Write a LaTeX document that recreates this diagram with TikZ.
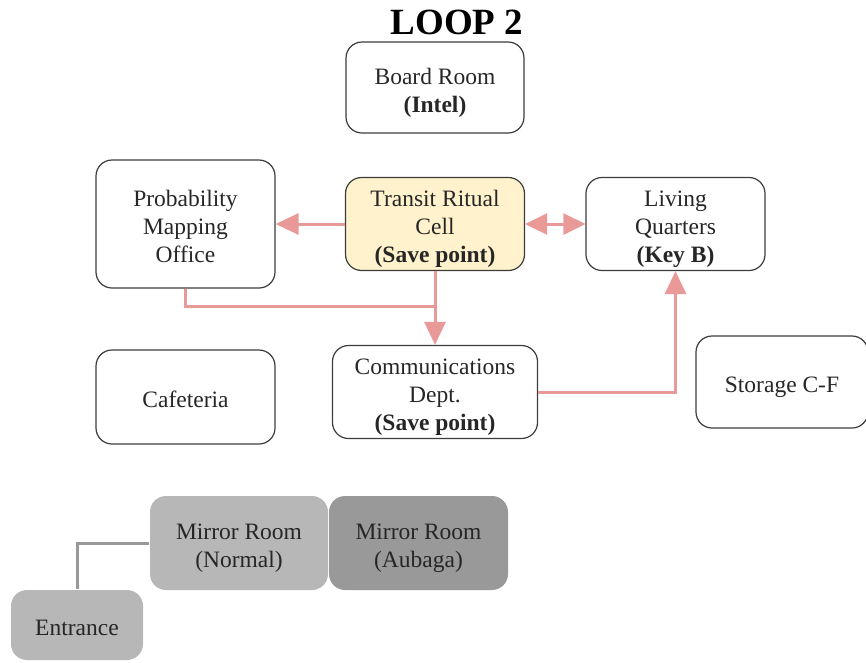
\documentclass[tikz,border=0pt]{standalone}
\usepackage{fontspec}
\setmainfont{Liberation Serif}
\usetikzlibrary{arrows.meta}
\definecolor{linkred}{HTML}{EA9999}
\definecolor{cellyellow}{HTML}{FFF2CC}
\definecolor{roomgray}{HTML}{B7B7B7}
\definecolor{roomdark}{HTML}{999999}
\definecolor{edgegray}{HTML}{3C3C3C}
% fixed-height struts so every label sits at the same place in its room
\newcommand\roomtop{\rule{0pt}{29pt}}
\newcommand\roombot{\rule[-8pt]{0pt}{0pt}}
\begin{document}
\begin{tikzpicture}[x=1pt,y=-1pt,
  room/.style={draw=edgegray, line width=1.2pt, rounded corners=16pt, align=center,
    font=\fontsize{23.5}{28}\selectfont, text=black!85, inner sep=0pt},
  greyroom/.style={room, draw=none, fill=roomgray},
  link/.style={linkred, line width=3pt},
  tip/.style={-{Triangle[length=23pt,width=21pt]}},
  twotip/.style={{Triangle[length=22pt,width=21pt]}-{Triangle[length=22pt,width=21pt]}},
  wire/.style={roomdark, line width=3pt}
]
\useasboundingbox (0,0) rectangle (866,662);

% title
\node[font=\fontsize{37}{42}\selectfont\bfseries] (title) at (457,22) {LOOP 2};

% upper floor rooms
\node[room, minimum width=178pt, minimum height=91pt] (board) at (435,87.5)
  {\roomtop Board Room\\\textbf{(Intel)}\roombot};
\node[room, minimum width=179pt, minimum height=128pt] (prob) at (185.5,224)
  {\roomtop Probability\\Mapping\\Office\roombot};
\node[room, fill=cellyellow, minimum width=179pt, minimum height=91pt] (transit) at (435,224)
  {\roomtop Transit Ritual\\Cell\\\textbf{(Save point)}\roombot};
\node[room, minimum width=179pt, minimum height=92pt] (living) at (675.5,224)
  {\roomtop Living\\Quarters\\\textbf{(Key B)}\roombot};

% middle rooms
\node[room, minimum width=179pt, minimum height=94pt] (cafe) at (185.5,397)
  {\roomtop Cafeteria\roombot};
\node[room, minimum width=205pt, minimum height=92pt] (comms) at (435,392)
  {\roomtop Communications\\Dept.\\\textbf{(Save point)}\roombot};
\node[room, minimum width=172pt, minimum height=92pt] (storage) at (782,382)
  {\roomtop Storage C-F\roombot};

% lower rooms
\node[greyroom, minimum width=178pt, minimum height=94pt] (mirrorA) at (239,543)
  {\roomtop Mirror Room\\(Normal)\roombot};
\node[greyroom, fill=roomdark, minimum width=179pt, minimum height=94pt] (mirrorB) at (418.5,543)
  {\roomtop Mirror Room\\(Aubaga)\roombot};
\node[greyroom, minimum width=132pt, minimum height=70pt] (entrance) at (77,625)
  {\roomtop Entrance\roombot};

% connections
\coordinate (join) at (transit.south |- 0,306);
\draw[link, tip] (transit.west) -- (prob.east);
\draw[link, twotip] (transit.east) -- (living.west);
\draw[link, tip] (transit.south) -- (comms.north);
\draw[link] (prob.south) |- (join);
\draw[link, tip] (comms.east) -| (living.south);
\draw[wire] (mirrorA.west) -| (entrance.north);
\end{tikzpicture}
\end{document}
